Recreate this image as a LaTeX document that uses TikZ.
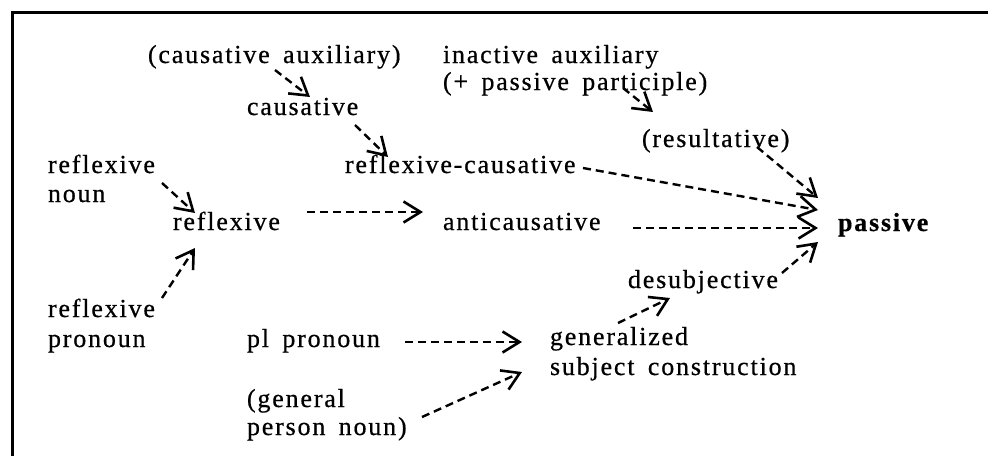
\documentclass[tikz,border=0pt]{standalone}
\usepackage{fontspec}
\setmainfont{Liberation Serif}[LetterSpace=7,WordSpace=1.6,FakeBold=0.6]
\usetikzlibrary{arrows.meta}
\newcommand{\mytwoline}[3]{\vtop{\baselineskip=#1\hbox{#2}\hbox{#3}}}
\begin{document}
\begin{tikzpicture}[x=1pt,y=-1pt,
  lbl/.style={anchor=base west,inner sep=0pt,outer sep=0pt,font=\fontsize{26}{29}\selectfont},
  dasharrow/.style={line width=2.4pt,dash pattern=on 8pt off 5pt,
    -{Straight Barb[length=17pt,width=21pt,line width=2.6pt]}},
  frame/.style={line width=3pt}]
\useasboundingbox (0,0) rectangle (988,456);
\coordinate (fbl) at (12,456);
\coordinate (ftl) at (12,12);
\coordinate (ftr) at (988,12);
\draw[frame] (fbl) -- (ftl) -- (ftr);

\node[lbl] (causaux) at (148,63) {(causative auxiliary)};
\node[lbl] (causative) at (247,115) {causative};
\node[lbl] (inactive) at (443,63) {\mytwoline{27pt}{inactive auxiliary}{(+ passive participle)}};
\node[lbl] (result) at (642,147) {(resultative)};
\node[lbl] (refcaus) at (345,173) {reflexive-causative};
\node[lbl] (refnoun) at (48,173) {\mytwoline{29pt}{reflexive}{noun}};
\node[lbl] (reflexive) at (173,230) {reflexive};
\node[lbl] (anticaus) at (443,230) {anticausative};
\node[lbl,font=\fontsize{26}{29}\selectfont\bfseries] (passive) at (838,231) {passive};
\node[lbl] (desubj) at (628,288) {desubjective};
\node[lbl] (general) at (550,345) {\mytwoline{30pt}{generalized}{subject construction}};
\node[lbl] (refpron) at (48,317) {\mytwoline{30pt}{reflexive}{pronoun}};
\node[lbl] (plpron) at (247,347) {pl pronoun};
\node[lbl] (gpn) at (247,407) {\mytwoline{28pt}{(general}{person noun)}};

\draw[dasharrow] ([shift={(127,7)}]causaux.base west) -- ([shift={(63,-18)}]causative.base west);
\draw[dasharrow] ([shift={(108,10)}]causative.base west) -- ([shift={(43,-16)}]refcaus.base west);
\draw[dasharrow] ([shift={(114,10)}]refnoun.base west) -- ([shift={(22,-17)}]reflexive.base west);
\draw[dasharrow] ([shift={(134,-18)}]reflexive.base west) -- ([shift={(-20,-18)}]anticaus.base west);
\draw[dasharrow] ([shift={(190,-2)}]anticaus.base west) -- ([shift={(-20,-3)}]passive.base west);
\draw[dasharrow] ([shift={(238,-5)}]refcaus.base west) -- ([shift={(-20,-21)}]passive.base west);
\draw[dasharrow] ([shift={(115,0)}]result.base west) -- ([shift={(-20,-33)}]passive.base west);
\draw[dasharrow] ([shift={(180,25)}]inactive.base west) -- ([shift={(11,-35)}]result.base west);
\draw[dasharrow] ([shift={(114,-19)}]refpron.base west) -- ([shift={(22,18)}]reflexive.base west);
\draw[dasharrow] ([shift={(158,-5)}]plpron.base west) -- ([shift={(-28,-3)}]general.base west);
\draw[dasharrow] ([shift={(175,10)}]gpn.base west) -- ([shift={(-28,27)}]general.base west);
\draw[dasharrow] ([shift={(68,-22)}]general.base west) -- ([shift={(42,10)}]desubj.base west);
\draw[dasharrow] ([shift={(154,-15)}]desubj.base west) -- ([shift={(-20,11)}]passive.base west);
\end{tikzpicture}
\end{document}
